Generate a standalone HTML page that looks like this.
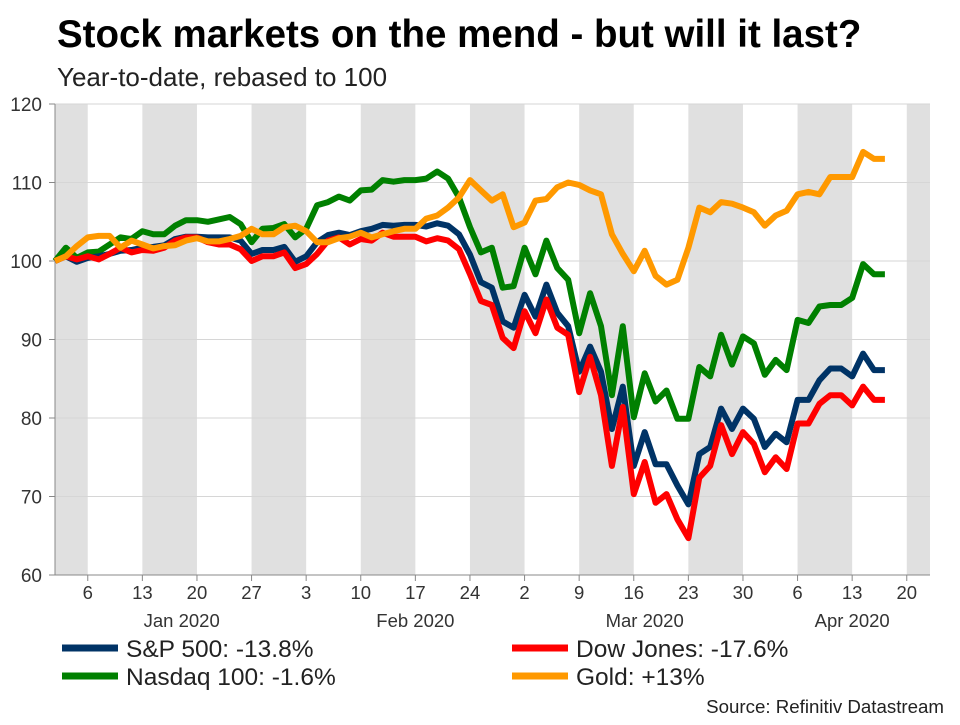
<!DOCTYPE html>
<html><head><meta charset="utf-8"><style>
body{margin:0;background:#fff;font-family:"Liberation Sans",Arial,sans-serif;}
svg text{font-family:"Liberation Sans",Arial,sans-serif;}
</style></head><body>
<svg id="chart" width="960" height="720" viewBox="0 0 960 720" xmlns="http://www.w3.org/2000/svg">
<text x="57" y="47" font-size="38.5" font-weight="bold" fill="#000">Stock markets on the mend - but will it last?</text>
<text x="57" y="86" font-size="26" fill="#222">Year-to-date, rebased to 100</text>
<g id="bands"></g>
<g id="grid"></g>
<g id="axes"></g>
<g id="series"></g>
<g id="legend"></g>
<text x="944" y="713" font-size="18.7" text-anchor="end" fill="#222">Source: Refinitiv Datastream</text>
</svg>
<script>
const spx=[100,100.6,99.9,100.4,100.6,100.9,101.3,101.4,101.7,101.8,102,102.8,103.1,103.1,103,103,103,102.6,100.9,101.4,101.4,101.8,99.9,100.6,102.4,103.3,103.6,103.3,103.8,104.1,104.6,104.5,104.6,104.6,104.4,104.8,104.5,103.4,100.8,97.3,96.6,92.3,91.5,95.7,92.9,97,93.4,91.7,85.9,89.1,85.9,78.6,84,73.9,78.2,74.1,74.1,71.4,69,75.4,76.3,81.2,78.6,81.2,79.9,76.3,78,76.9,82.3,82.3,84.8,86.3,86.3,85.3,88.2,86.1,86.1];
const dow=[100,100.6,100.2,100.6,100.2,100.9,101.7,101.1,101.4,101.3,101.7,102.6,103,103,102.4,102.1,102.1,101.5,100,100.6,100.6,101.1,99.1,99.6,100.9,102.6,103,102.1,102.8,102.6,103.6,103.1,103.1,103.1,102.5,102.9,102.6,101.5,98.3,94.9,94.4,90.2,88.9,93.6,90.8,95.1,91.5,90.6,83.3,87.8,82.9,73.9,81.4,70.3,74.4,69.2,70.3,67.1,64.7,72.4,73.9,79.1,75.4,78.2,76.7,73.1,75,73.5,79.3,79.3,81.8,82.9,82.9,81.6,84,82.3,82.3];
const ndx=[100,101.7,100.4,101.1,101.2,102.1,103,102.8,103.8,103.4,103.4,104.5,105.2,105.2,105,105.3,105.6,104.7,102.4,104.1,104.2,104.7,103,104.1,107.1,107.5,108.2,107.7,109,109.1,110.3,110.1,110.3,110.3,110.5,111.4,110.5,108.1,104.3,101.1,101.7,96.6,96.8,101.7,98.3,102.6,99.1,97.6,90.8,95.9,91.7,82.9,91.7,80.1,85.7,82.1,83.5,79.9,79.9,86.5,85.3,90.6,86.8,90.4,89.5,85.5,87.4,86.1,92.5,92.1,94.2,94.4,94.4,95.3,99.6,98.3,98.3];
const gold=[100,100.6,101.9,103,103.2,103.2,101.7,102.6,102.1,101.6,101.9,102,102.6,102.9,102.5,102.5,102.8,103.2,104.1,103.4,103.4,104.3,104.5,103.8,102.4,102.4,102.9,103.1,103.6,103,103.4,103.8,104.1,104.1,105.4,105.8,106.8,108.1,110.3,109,107.7,108.5,104.3,104.9,107.7,107.9,109.4,110,109.7,109,108.5,103.4,100.9,98.7,101.3,98.1,97,97.6,101.7,106.8,106.2,107.5,107.3,106.8,106.2,104.5,105.8,106.4,108.5,108.8,108.5,110.7,110.7,110.7,113.9,113,113];
const yTicks=[60,70,80,90,100,110,120];
const xTickIdx=[3,8,13,18,23,28,33,38,43,48,53,58,63,68,73,78];
const xTickLabels=["6","13","20","27","3","10","17","24","2","9","16","23","30","6","13","20"];
const monthIdx=[11.6,33,54,73];
const monthLabels=["Jan 2020","Feb 2020","Mar 2020","Apr 2020"];
const seriesNames=["S&P 500: -13.8%","Dow Jones: -17.6%","Nasdaq 100: -1.6%","Gold: +13%"];

const NS="http://www.w3.org/2000/svg";
const L=55,R=930,T=104,B=575;
const xs=i=>L+i*10.92;
const ys=v=>B-(v-60)/60*(B-T);
function mk(tag,attrs,parent,txt){const e=document.createElementNS(NS,tag);for(const k in attrs)e.setAttribute(k,attrs[k]);if(txt!==undefined)e.textContent=txt;parent.appendChild(e);return e;}
const bands=document.getElementById('bands'),grid=document.getElementById('grid'),axes=document.getElementById('axes'),ser=document.getElementById('series'),leg=document.getElementById('legend');
for(let s=-2;s<81;s+=10){const a=Math.max(L,xs(s)),b=Math.min(R,xs(s+5));if(b>a){const r=mk('rect',{x:a,y:T,width:b-a,height:B-T,fill:'#e0e0e0'},bands);

}}
yTicks.forEach(v=>{const y=ys(v);
if(v>60){const g=mk('line',{x1:L,x2:R,y1:y,y2:y,stroke:'#d6d6d6','stroke-width':1},grid);

}
mk('line',{x1:L-6,x2:L,y1:y,y2:y,stroke:'#888'},axes);
const t=mk('text',{x:L-13,y:y+7,'font-size':19,'text-anchor':'end',fill:'#333'},axes,v);

});
mk('line',{x1:L,x2:L,y1:T,y2:B,stroke:'#888'},axes);
mk('line',{x1:L,x2:R,y1:B,y2:B,stroke:'#888'},axes);
xTickIdx.forEach((i,k)=>{const x=xs(i);mk('line',{x1:x,x2:x,y1:B,y2:B+6,stroke:'#888'},axes);
const t=mk('text',{x:x,y:B+24,'font-size':18.5,'text-anchor':'middle',fill:'#333'},axes,xTickLabels[k]);

});
monthIdx.forEach((i,k)=>{const t=mk('text',{x:xs(i),y:B+52,'font-size':18.5,'text-anchor':'middle',fill:'#333'},axes,monthLabels[k]);

});
const data=[spx,dow,ndx,gold],cols=['#003366','#ff0000','#008000','#ff9900'],names=['sp500-line','dow-line','nasdaq-line','gold-line'];
[2,0,1,3].forEach(k=>{const d=data[k].map((v,i)=>(i?'L':'M')+xs(i).toFixed(1)+','+ys(v).toFixed(1)).join('');
const p=mk('path',{d:d,fill:'none',stroke:cols[k],'stroke-width':6,'stroke-linejoin':'round'},ser);

});
const lpos=[[62,648],[512,648],[62,676],[512,676]];
lpos.forEach((p,k)=>{const g=mk('g',{},leg);


mk('line',{x1:p[0],x2:p[0]+56,y1:p[1],y2:p[1],stroke:cols[k],'stroke-width':7},g);
mk('text',{x:p[0]+64,y:p[1]+9,'font-size':24.5,fill:'#222'},g,seriesNames[k]);});
</script>
</body></html>
